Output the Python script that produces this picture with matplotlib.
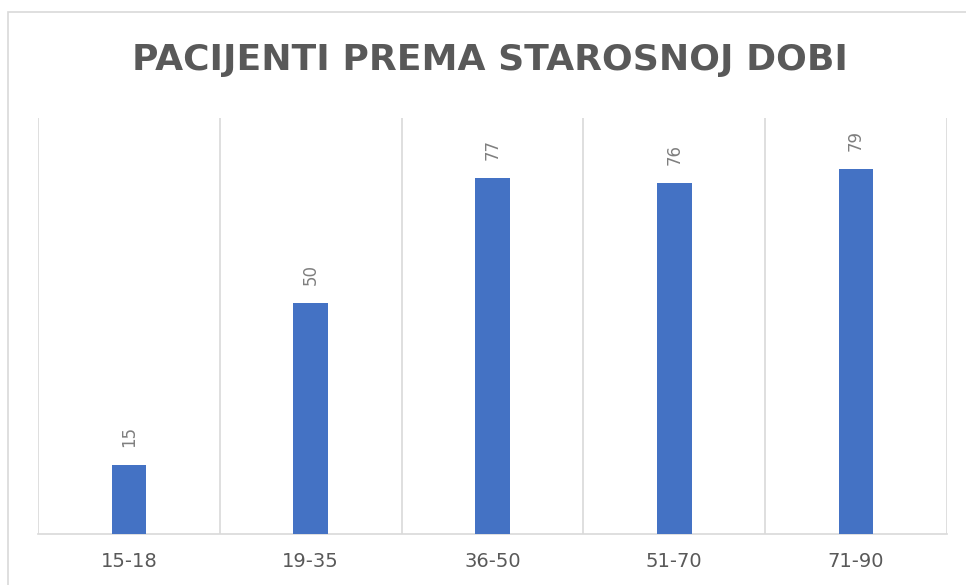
import matplotlib.pyplot as plt
from matplotlib.patches import Rectangle

# age groups and patient counts
age_groups = ["15-18", "19-35", "36-50", "51-70", "71-90"]
patients = [15, 50, 77, 76, 79]

BAR_COLOR = "#4472C4"
GRID_COLOR = "#d9d9d9"
TEXT_COLOR = "#595959"

fig = plt.figure(figsize=(9.66, 5.85), dpi=100)
fig.patch.set_facecolor("white")

# chart area border (cut off at right and bottom like the reference)
fig.patches.append(Rectangle((8 / 966, -0.1), 1.2, 0.1 + (585 - 12) / 585,
                             transform=fig.transFigure, fill=False,
                             edgecolor=GRID_COLOR, linewidth=1.2))

ax = fig.add_axes([38 / 966, 51 / 585, (947 - 38) / 966, (534 - 118) / 585])
x = list(range(len(age_groups)))
bars = ax.bar(x, patients, width=0.19, color=BAR_COLOR, zorder=3)

ax.set_xlim(-0.5, len(age_groups) - 0.5)
ax.set_ylim(0, 90)

# category separators
for b in range(len(age_groups) + 1):
    ax.axvline(b - 0.5, color=GRID_COLOR, linewidth=1.2, zorder=1)

for s in ["top", "left", "right"]:
    ax.spines[s].set_visible(False)
ax.spines["bottom"].set_color(GRID_COLOR)
ax.spines["bottom"].set_linewidth(1.2)

ax.set_yticks([])
ax.set_xticks(x)
ax.set_xticklabels(age_groups, fontsize=14, color=TEXT_COLOR)
ax.tick_params(axis="x", length=0, pad=13)

for xi, v in zip(x, patients):
    ax.annotate(str(v), (xi, v), xytext=(0, 13), textcoords="offset points",
                rotation=90, ha="center", va="bottom", fontsize=12,
                color="#7f7f7f")

fig.text(0.507, (585 - 60) / 585, "PACIJENTI PREMA STAROSNOJ DOBI",
         ha="center", va="center", fontsize=26, fontweight="bold",
         color=TEXT_COLOR)

fig.savefig("out.png", dpi=100)
